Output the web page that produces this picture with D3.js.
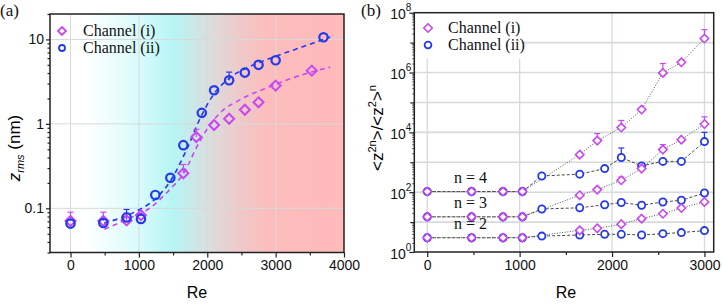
<!DOCTYPE html>
<html lang="en">
<head>
<meta charset="utf-8">
<title>zrms and moments</title>
<style>
  body { margin: 0; background: #fff; }
</style>
</head>
<body>
<svg id="fig" width="722" height="304"></svg>
<script src="https://d3js.org/d3.v7.min.js"></script>
<script>
// ---- panel (a): z_rms vs Re ----
const reA_i  = [0, 480, 820, 1030, 1650, 1840, 2100, 2320, 2550, 2750, 3000, 3530];
const zA_i   = [0.071, 0.071, 0.072, 0.083, 0.26, 0.70, 0.97, 1.15, 1.47, 1.8, 2.84, 4.27];
const errA_i = [0.09, 0.09, 0.088, 0.086, 0.33, 0.86, null, null, null, null, null, null];

const reA_ii  = [0, 480, 820, 1030, 1240, 1460, 1650, 1920, 2100, 2320, 2550, 2750, 3000, 3700];
const zA_ii   = [0.066, 0.067, 0.078, 0.075, 0.144, 0.23, 0.56, 1.35, 2.5, 3.28, 4.05, 5.0, 5.66, 10.6];
const errA_ii = [null, null, 0.097, null, null, null, null, null, null, 4.1, null, null, null, null];

// dashed fit curves
const fitRe_i = [496, 827, 1168, 1460, 1655, 1850, 1996, 2190, 2483, 2872, 3261, 3796];
const fitZ_i  = [0.0565, 0.074, 0.102, 0.17, 0.26, 0.54, 0.86, 1.35, 1.94, 2.67, 3.53, 4.7];
const fitRe_ii = [490, 920, 1260, 1460, 1700, 1900, 2090, 2330, 2680, 3020, 3360, 3800];
const fitZ_ii  = [0.067, 0.089, 0.134, 0.21, 0.5, 1.18, 2.22, 3.5, 5.0, 6.4, 8.0, 10.7];

// background shading (Re position -> colour)
const bgRe    = [-300, 250, 1000, 1500, 1750, 2050, 2500, 2900, 4000];
const bgColor = ["#ffffff", "#ffffff", "#d9fbfb", "#b6f5f5", "#c8eaea", "#dcdcdc", "#efc9c9", "#fdbcbc", "#ffbaba"];

const xTicksA = [0, 1000, 2000, 3000, 4000];
const yTicksA = [0.1, 1, 10];

// ---- panel (b): normalised moments ----
const reB_i  = [0, 480, 820, 1030, 1650, 1840, 2100, 2320, 2550, 2750, 3000];
const reB_ii = [0, 480, 820, 1030, 1240, 1650, 1920, 2100, 2320, 2550, 2750, 3000];

const n4_i     = [105, 105, 105, 105, 1800, 5300, 14500, 58000, 970000, 2200000, 13700000];
const n4_i_err = [null, null, null, null, null, 9100, 25000, null, 2000000, null, 27000000];
const n3_i     = [15, 15, 15, 15, 79, 122, 250, 615, 2650, 5700, 19000];
const n3_i_err = [null, null, null, null, null, null, 320, null, 3900, null, 33000];
const n2_i     = [3, 3, 3, 3, 5.3, 6.2, 8.5, 13, 19, 29.5, 47];

const n4_ii     = [105, 105, 105, 105, 348, 400, 615, 1440, 755, 1070, 1070, 4900];
const n4_ii_err = [null, null, null, null, null, null, null, 3000, null, null, null, 10000];
const n3_ii     = [15, 15, 15, 15, 27.5, 30, 38, 45, 36.5, 47, 53.5, 94];
const n2_ii     = [3, 3, 3, 3, 3.4, 3.7, 3.9, 3.9, 3.7, 4.1, 4.45, 5.2];

const nLabels = ["n = 4", "n = 3", "n = 2"];
const nLabelAt = [105, 15, 3];

const xTicksB = [0, 1000, 2000, 3000];
const yTicksB = [1, 1e2, 1e4, 1e6, 1e8];

const PINK = "#c946f2";
const BLUE = "#2438ee";
const GRID = "#d6dada";
const SANS = "Liberation Sans, Arial, sans-serif";
const SERIF = "Liberation Serif, Times New Roman, DejaVu Serif, serif";

const svg = d3.select("#fig");

function diamond(g, x, y, r, color, sw, fill) {
  g.append("path")
    .attr("d", `M${x},${y - r}L${x + r},${y}L${x},${y + r}L${x - r},${y}Z`)
    .attr("fill", fill).attr("stroke", color).attr("stroke-width", sw);
}
function circle(g, x, y, r, color, sw, fill) {
  g.append("circle").attr("cx", x).attr("cy", y).attr("r", r)
    .attr("fill", fill).attr("stroke", color).attr("stroke-width", sw);
}
function errUp(g, x, y0, y1, color) {
  g.append("line").attr("x1", x).attr("x2", x).attr("y1", y0).attr("y2", y1)
    .attr("stroke", color).attr("stroke-width", 1.2);
  g.append("line").attr("x1", x - 3).attr("x2", x + 3).attr("y1", y1).attr("y2", y1)
    .attr("stroke", color).attr("stroke-width", 1.2);
}
function styleAxis(g, size) {
  g.select(".domain").remove();
  g.selectAll("line").attr("stroke", "#222").attr("stroke-width", 1.2);
  g.selectAll("text").attr("fill", "#111").attr("font-size", size).attr("font-family", SANS);
}
function minorLog(lo, hi) {
  const out = [];
  for (let e = lo; e < hi; e++) for (let k = 2; k <= 9; k++) out.push(k * Math.pow(10, e));
  return out;
}
function serifText(g, x, y, size, txt) {
  return g.append("text").attr("x", x).attr("y", y).attr("font-size", size)
    .attr("font-family", SERIF).attr("fill", "#111").text(txt);
}

// ================= panel (a) =================
{
  const L = 50, R = 344, T = 14, B = 252.5;
  const x = d3.scaleLinear().domain([-300, 4000]).range([L, R]);
  const y = d3.scaleLog().domain([0.03, 20]).range([B, T]);
  const g = svg.append("g");

  const defs = svg.append("defs");
  const grad = defs.append("linearGradient").attr("id", "bgA")
    .attr("gradientUnits", "userSpaceOnUse")
    .attr("x1", x(-300)).attr("x2", x(4000)).attr("y1", 0).attr("y2", 0);
  bgRe.forEach((r, i) => grad.append("stop")
    .attr("offset", (r + 300) / 4300).attr("stop-color", bgColor[i]));
  g.append("rect").attr("x", L).attr("y", T).attr("width", R - L).attr("height", B - T)
    .attr("fill", "url(#bgA)");

  // grid
  g.selectAll(".gx").data([0, 1000, 2000, 3000]).join("line")
    .attr("x1", d => x(d)).attr("x2", d => x(d)).attr("y1", T).attr("y2", B)
    .attr("stroke", GRID).attr("stroke-width", 1);
  g.selectAll(".gy").data(yTicksA).join("line")
    .attr("x1", L).attr("x2", R).attr("y1", d => y(d)).attr("y2", d => y(d))
    .attr("stroke", GRID).attr("stroke-width", 1);

  // fits
  const fitLine = d3.line().x(d => x(d[0])).y(d => y(d[1])).curve(d3.curveMonotoneX);
  g.append("path").datum(d3.zip(fitRe_i, fitZ_i)).attr("d", fitLine)
    .attr("fill", "none").attr("stroke", PINK).attr("stroke-width", 1.6).attr("stroke-dasharray", "5,4");
  g.append("path").datum(d3.zip(fitRe_ii, fitZ_ii)).attr("d", fitLine)
    .attr("fill", "none").attr("stroke", BLUE).attr("stroke-width", 1.6).attr("stroke-dasharray", "5,4");

  // error bars
  reA_i.forEach((r, i) => { if (errA_i[i]) errUp(g, x(r), y(zA_i[i]), y(errA_i[i]), PINK); });
  reA_ii.forEach((r, i) => { if (errA_ii[i]) errUp(g, x(r), y(zA_ii[i]), y(errA_ii[i]), BLUE); });

  // markers
  reA_i.forEach((r, i) => diamond(g, x(r), y(zA_i[i]), 5, PINK, 2, "none"));
  reA_ii.forEach((r, i) => circle(g, x(r), y(zA_ii[i]), 4.2, BLUE, 2.2, "none"));

  // frame
  g.append("rect").attr("x", L).attr("y", T).attr("width", R - L).attr("height", B - T)
    .attr("fill", "none").attr("stroke", "#222").attr("stroke-width", 1.5);

  // axes
  const ax = g.append("g").attr("transform", `translate(0,${B})`)
    .call(d3.axisBottom(x).tickValues(xTicksA).tickSize(5).tickPadding(3).tickFormat(d3.format("d")));
  styleAxis(ax, 14);
  const axm = g.append("g").attr("transform", `translate(0,${B})`)
    .call(d3.axisBottom(x).tickValues([500, 1500, 2500, 3500]).tickSize(3).tickFormat(""));
  styleAxis(axm, 14);
  const ay = g.append("g").attr("transform", `translate(${L},0)`)
    .call(d3.axisLeft(y).tickValues(yTicksA).tickSize(4).tickPadding(2).tickFormat(d => String(d)));
  styleAxis(ay, 14);
  const aym = g.append("g").attr("transform", `translate(${L},0)`)
    .call(d3.axisLeft(y).tickValues(minorLog(-2, 1).filter(v => v >= 0.03).concat([20])).tickSize(2.5).tickFormat(""));
  styleAxis(aym, 14);

  // axis titles
  g.append("text").attr("x", 197).attr("y", 298).attr("text-anchor", "middle")
    .attr("font-family", SANS).attr("font-size", 16).text("Re");
  const yt = g.append("text").attr("transform", "translate(20,148) rotate(-90)")
    .attr("text-anchor", "middle").attr("font-family", SANS).attr("font-size", 17);
  yt.append("tspan").attr("font-style", "italic").text("z");
  yt.append("tspan").attr("font-style", "italic").attr("font-size", 11).attr("dy", 4).text("rms");
  yt.append("tspan").attr("dy", -4).text(" (nm)");

  // legend
  diamond(g, 62, 31, 4, PINK, 1.8, "none");
  circle(g, 62, 48, 3, BLUE, 1.8, "none");
  serifText(g, 83, 36, 16, "Channel (i)");
  serifText(g, 83, 53, 16, "Channel (ii)");

  serifText(g, 0, 16, 17, "(a)");
}

// ================= panel (b) =================
{
  const L = 414.3, R = 713.7, T = 12.7, B = 252;
  const x = d3.scaleLinear().domain([-140, 3100]).range([L, R]);
  const y = d3.scaleLog().domain([1, 1e8]).range([B, T]);
  const g = svg.append("g");

  g.append("rect").attr("x", L).attr("y", T).attr("width", R - L).attr("height", B - T).attr("fill", "#fff");

  // grid
  g.selectAll(".gx").data([0, 1000, 2000, 3000]).join("line")
    .attr("x1", d => x(d)).attr("x2", d => x(d)).attr("y1", T).attr("y2", B)
    .attr("stroke", GRID).attr("stroke-width", 1.3);
  g.selectAll(".gy").data(d3.range(1, 8).map(e => Math.pow(10, e))).join("line")
    .attr("x1", L).attr("x2", R).attr("y1", d => y(d)).attr("y2", d => y(d))
    .attr("stroke", GRID).attr("stroke-width", 1.6);

  // legend box hides grid
  g.append("rect").attr("x", L + 1).attr("y", T + 1).attr("width", 106).attr("height", 45).attr("fill", "#fff");

  const line = d3.line().x(d => x(d[0])).y(d => y(d[1]));
  const seriesI  = [n4_i, n3_i, n2_i];
  const seriesII = [n4_ii, n3_ii, n2_ii];
  seriesII.forEach(s => g.append("path").datum(d3.zip(reB_ii, s)).attr("d", line)
    .attr("fill", "none").attr("stroke", "#333").attr("stroke-width", 0.9).attr("stroke-dasharray", "3,2"));
  seriesI.forEach(s => g.append("path").datum(d3.zip(reB_i, s)).attr("d", line)
    .attr("fill", "none").attr("stroke", "#555").attr("stroke-width", 1).attr("stroke-dasharray", "1,1.6"));

  // error bars
  [[n4_i, n4_i_err], [n3_i, n3_i_err]].forEach(([s, e]) =>
    reB_i.forEach((r, i) => { if (e[i]) errUp(g, x(r), y(s[i]), y(e[i]), PINK); }));
  reB_ii.forEach((r, i) => { if (n4_ii_err[i]) errUp(g, x(r), y(n4_ii[i]), y(n4_ii_err[i]), BLUE); });

  // markers
  seriesII.forEach(s => reB_ii.forEach((r, i) => circle(g, x(r), y(s[i]), 3.6, BLUE, 1.8, "#fff")));
  seriesI.forEach(s => reB_i.forEach((r, i) => diamond(g, x(r), y(s[i]), 4.2, PINK, 1.6, "#fff")));

  // n labels
  nLabels.forEach((t, i) => serifText(g, 454, y(nLabelAt[i]) - 9, 16, t));

  // frame
  g.append("rect").attr("x", L).attr("y", T).attr("width", R - L).attr("height", B - T)
    .attr("fill", "none").attr("stroke", "#222").attr("stroke-width", 1.5);

  const ax = g.append("g").attr("transform", `translate(0,${B})`)
    .call(d3.axisBottom(x).tickValues(xTicksB).tickSize(5).tickPadding(3).tickFormat(d3.format("d")));
  styleAxis(ax, 14);
  const axm = g.append("g").attr("transform", `translate(0,${B})`)
    .call(d3.axisBottom(x).tickValues([500, 1500, 2500]).tickSize(3).tickFormat(""));
  styleAxis(axm, 14);

  const ay = g.append("g").attr("transform", `translate(${L},0)`)
    .call(d3.axisLeft(y).tickValues(yTicksB).tickSize(5).tickPadding(-2).tickFormat(""));
  styleAxis(ay, 14);
  ay.selectAll(".tick text").attr("dy", null).attr("y", 6).each(function (d) {
    const t = d3.select(this);
    t.text("10");
    t.append("tspan").attr("dy", -8).attr("font-size", 10).text(Math.round(Math.log10(d)));
  });
  const aymid = g.append("g").attr("transform", `translate(${L},0)`)
    .call(d3.axisLeft(y).tickValues([1e1, 1e3, 1e5, 1e7]).tickSize(4).tickFormat(""));
  styleAxis(aymid, 14);
  const aym = g.append("g").attr("transform", `translate(${L},0)`)
    .call(d3.axisLeft(y).tickValues(minorLog(0, 8)).tickSize(2).tickFormat(""));
  styleAxis(aym, 14);
  aym.selectAll("line").attr("stroke-width", 0.8);

  g.append("text").attr("x", 566).attr("y", 298).attr("text-anchor", "middle")
    .attr("font-family", SANS).attr("font-size", 16).text("Re");
  const yt = g.append("text").attr("transform", "translate(383,128) rotate(-90)")
    .attr("text-anchor", "middle").attr("font-family", SANS).attr("font-size", 17);
  yt.append("tspan").text("<z");
  yt.append("tspan").attr("font-size", 11).attr("dy", -7).text("2n");
  yt.append("tspan").attr("dy", 7).text(">/<z");
  yt.append("tspan").attr("font-size", 11).attr("dy", -7).text("2");
  yt.append("tspan").attr("dy", 7).text(">");
  yt.append("tspan").attr("font-size", 11).attr("dy", -7).text("n");

  // legend
  diamond(g, 428, 28, 4.2, PINK, 1.6, "#fff");
  circle(g, 428, 45, 3.4, BLUE, 1.8, "#fff");
  serifText(g, 448, 33, 16, "Channel (i)");
  serifText(g, 448, 50, 16, "Channel (ii)");

  serifText(g, 361, 16, 17, "(b)");
}
</script>
</body>
</html>
